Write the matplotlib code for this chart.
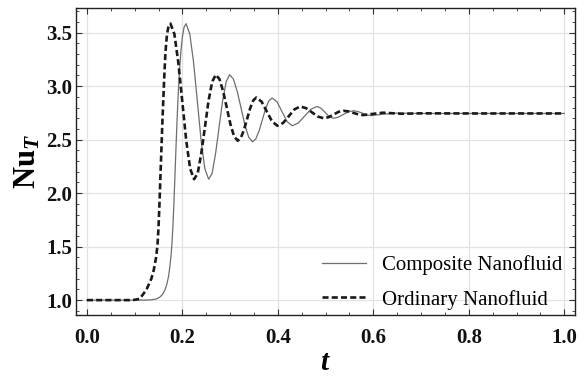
import matplotlib.pyplot as plt
from matplotlib.ticker import MultipleLocator

# Composite Nanofluid (solid gray)
t_comp = [0.000, 0.120, 0.135, 0.145, 0.152, 0.158, 0.163, 0.167, 0.171, 0.174,
          0.1765, 0.1785, 0.1805, 0.1825, 0.1845, 0.1865, 0.1885, 0.1905, 0.1925, 0.1945,
          0.197, 0.200, 0.2035, 0.2077, 0.2156, 0.2235, 0.2314, 0.2392, 0.2471, 0.255,
          0.2623, 0.2697, 0.277, 0.2843, 0.2917, 0.299, 0.307, 0.315, 0.323, 0.331,
          0.339, 0.347, 0.3538, 0.3607, 0.3675, 0.3743, 0.3812, 0.388, 0.3985, 0.409,
          0.4195, 0.430, 0.443, 0.456, 0.469, 0.482, 0.4905, 0.499, 0.5075, 0.516,
          0.5265, 0.537, 0.5475, 0.558, 0.567, 0.577, 0.586, 0.595, 0.620, 0.650,
          0.700, 0.800, 0.900, 1.000]
nu_comp = [1.000, 1.000, 1.003, 1.010, 1.025, 1.050, 1.090, 1.140, 1.220, 1.320,
           1.430, 1.550, 1.720, 1.930, 2.170, 2.410, 2.640, 2.850, 3.030, 3.180,
           3.330, 3.460, 3.550, 3.585, 3.487, 3.221, 2.858, 2.494, 2.228, 2.130,
           2.184, 2.374, 2.619, 2.863, 3.041, 3.107, 3.065, 2.950, 2.794, 2.637,
           2.522, 2.480, 2.507, 2.582, 2.685, 2.788, 2.863, 2.890, 2.852, 2.760,
           2.668, 2.630, 2.656, 2.720, 2.784, 2.810, 2.794, 2.755, 2.716, 2.700,
           2.710, 2.735, 2.760, 2.770, 2.764, 2.748, 2.732, 2.725, 2.738, 2.748,
           2.745, 2.745, 2.745, 2.745]

# Ordinary Nanofluid (dashed black)
t_ord = [0.000, 0.090, 0.100, 0.110, 0.117, 0.125, 0.135, 0.140, 0.145, 0.148,
         0.150, 0.152, 0.154, 0.156, 0.158, 0.160, 0.162, 0.164, 0.166, 0.168,
         0.171, 0.175, 0.1833, 0.1915, 0.1998, 0.208, 0.2163, 0.2245, 0.2321, 0.2397,
         0.2473, 0.2548, 0.2624, 0.270, 0.2777, 0.2853, 0.293, 0.3007, 0.3083, 0.316,
         0.3225, 0.329, 0.3355, 0.342, 0.3485, 0.355, 0.366, 0.377, 0.388, 0.399,
         0.411, 0.423, 0.435, 0.447, 0.4593, 0.4715, 0.4838, 0.496, 0.5064, 0.5168,
         0.5271, 0.5375, 0.5479, 0.5583, 0.5686, 0.579, 0.620, 0.660, 0.700, 0.800,
         0.900, 1.000]
nu_ord = [1.000, 1.000, 1.003, 1.012, 1.050, 1.100, 1.200, 1.280, 1.400, 1.520,
          1.680, 1.900, 2.150, 2.400, 2.650, 2.870, 3.080, 3.270, 3.400, 3.490,
          3.560, 3.585, 3.487, 3.221, 2.858, 2.494, 2.228, 2.130, 2.184, 2.374,
          2.619, 2.863, 3.041, 3.107, 3.066, 2.953, 2.799, 2.644, 2.531, 2.490,
          2.517, 2.591, 2.692, 2.793, 2.867, 2.894, 2.855, 2.762, 2.669, 2.630,
          2.656, 2.720, 2.784, 2.810, 2.794, 2.755, 2.716, 2.700, 2.710, 2.735,
          2.760, 2.770, 2.764, 2.750, 2.736, 2.730, 2.752, 2.742, 2.746, 2.745,
          2.745, 2.745]

plt.rcParams['mathtext.fontset'] = 'custom'
plt.rcParams['mathtext.bf'] = 'Liberation Serif:bold'
plt.rcParams['mathtext.it'] = 'Liberation Serif:italic:bold'
plt.rcParams['mathtext.rm'] = 'Liberation Serif:bold'

fig = plt.figure(figsize=(5.84, 3.76), dpi=100)
ax = fig.add_axes([0.130, 0.162, 0.8546, 0.8165])

ax.plot(t_comp, nu_comp, color='#6e6e6e', lw=0.9, label='Composite Nanofluid')
ax.plot(t_ord, nu_ord, color='#1a1a1a', lw=1.9, dashes=(2.3, 1.2), label='Ordinary Nanofluid')

ax.set_xlim(-0.023, 1.0225)
ax.set_ylim(0.86, 3.73)
ax.xaxis.set_major_locator(MultipleLocator(0.2))
ax.xaxis.set_minor_locator(MultipleLocator(0.05))
ax.yaxis.set_major_locator(MultipleLocator(0.5))
ax.yaxis.set_minor_locator(MultipleLocator(0.1))
ax.grid(True, which='major', color='#e2e2e2', lw=0.9)
ax.set_axisbelow(True)

ax.tick_params(which='both', direction='in', top=True, right=True, colors='#333333')
ax.tick_params(which='major', length=4, width=0.8)
ax.tick_params(which='minor', length=2, width=0.6)
ax.tick_params(axis='x', which='major', pad=9)
ax.tick_params(axis='y', which='major', pad=3)
for s in ax.spines.values():
    s.set_color('#222222')
    s.set_linewidth(1.0)

for lab in ax.get_xticklabels() + ax.get_yticklabels():
    lab.set_fontfamily('Liberation Serif')
    lab.set_fontweight('bold')
    lab.set_fontsize(15)
    lab.set_color('#111111')

ax.set_xlabel(r'$t$', fontsize=21, labelpad=0)
ax.set_ylabel(r'$\mathbf{Nu}_{T}$', fontsize=22, labelpad=3)

leg = ax.legend(loc='lower right', frameon=False, prop={'family': 'Liberation Serif', 'size': 15},
                handlelength=2.1, handletextpad=0.8, labelspacing=0.7,
                bbox_to_anchor=(1.013, -0.043))

fig.savefig('out.png', dpi=100)
